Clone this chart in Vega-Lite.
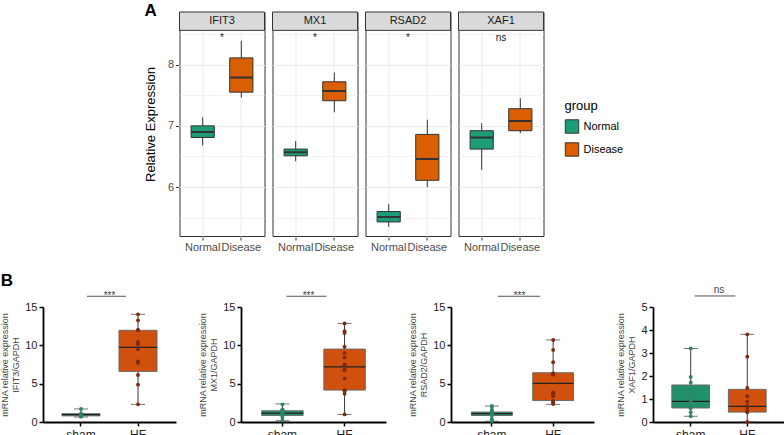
{
  "$schema": "https://vega.github.io/schema/vega-lite/v6.json",
  "padding": {"left": 0, "right": 0, "top": 2, "bottom": 0},
  "background": "white",
  "config": {"font": "Liberation Sans", "view": {"stroke": null}, "axis": {"labelOverlap": false, "labelFlush": false}},
  "datasets": {
    "topstats": [
      {"gene": "IFIT3", "group": "Normal", "min": 6.68, "q1": 6.81, "median": 6.90, "q3": 7.00, "max": 7.14, "sig": "*"},
      {"gene": "IFIT3", "group": "Disease", "min": 7.46, "q1": 7.55, "median": 7.79, "q3": 8.11, "max": 8.39, "sig": "*"},
      {"gene": "MX1", "group": "Normal", "min": 6.42, "q1": 6.51, "median": 6.57, "q3": 6.62, "max": 6.75, "sig": "*"},
      {"gene": "MX1", "group": "Disease", "min": 7.22, "q1": 7.41, "median": 7.57, "q3": 7.72, "max": 7.87, "sig": "*"},
      {"gene": "RSAD2", "group": "Normal", "min": 5.35, "q1": 5.43, "median": 5.51, "q3": 5.60, "max": 5.72, "sig": "*"},
      {"gene": "RSAD2", "group": "Disease", "min": 6.00, "q1": 6.11, "median": 6.46, "q3": 6.86, "max": 7.10, "sig": "*"},
      {"gene": "XAF1", "group": "Normal", "min": 6.28, "q1": 6.62, "median": 6.81, "q3": 6.92, "max": 7.04, "sig": "ns"},
      {"gene": "XAF1", "group": "Disease", "min": 6.88, "q1": 6.92, "median": 7.08, "q3": 7.28, "max": 7.45, "sig": "ns"}
    ],
    "bstats": [
      {"gene": "IFIT3", "group": "sham", "min": 0.65, "q1": 0.8, "median": 0.95, "q3": 1.08, "max": 1.7, "sig": "***"},
      {"gene": "IFIT3", "group": "HF", "min": 2.3, "q1": 6.6, "median": 9.74, "q3": 11.96, "max": 14.04, "sig": "***"},
      {"gene": "MX1", "group": "sham", "min": 0.17, "q1": 0.86, "median": 1.16, "q3": 1.46, "max": 2.36, "sig": "***"},
      {"gene": "MX1", "group": "HF", "min": 0.99, "q1": 4.16, "median": 7.2, "q3": 9.51, "max": 12.86, "sig": "***"},
      {"gene": "RSAD2", "group": "sham", "min": 0.1, "q1": 0.85, "median": 1.08, "q3": 1.3, "max": 2.08, "sig": "***"},
      {"gene": "RSAD2", "group": "HF", "min": 2.3, "q1": 2.8, "median": 5.03, "q3": 6.42, "max": 10.71, "sig": "***"},
      {"gene": "XAF1", "group": "sham", "min": 0.25, "q1": 0.61, "median": 0.9, "q3": 1.61, "max": 3.2, "sig": "ns"},
      {"gene": "XAF1", "group": "HF", "min": 0.0, "q1": 0.43, "median": 0.68, "q3": 1.42, "max": 3.81, "sig": "ns"}
    ],
    "bpts": [
      {"gene": "IFIT3", "group": "sham", "value": 0.7}, {"gene": "IFIT3", "group": "sham", "value": 0.75}, {"gene": "IFIT3", "group": "sham", "value": 0.8}, {"gene": "IFIT3", "group": "sham", "value": 0.85}, {"gene": "IFIT3", "group": "sham", "value": 0.9}, {"gene": "IFIT3", "group": "sham", "value": 0.95}, {"gene": "IFIT3", "group": "sham", "value": 1.0}, {"gene": "IFIT3", "group": "sham", "value": 1.02}, {"gene": "IFIT3", "group": "sham", "value": 1.05}, {"gene": "IFIT3", "group": "sham", "value": 1.1}, {"gene": "IFIT3", "group": "sham", "value": 1.7},
      {"gene": "IFIT3", "group": "HF", "value": 14.04}, {"gene": "IFIT3", "group": "HF", "value": 13.26}, {"gene": "IFIT3", "group": "HF", "value": 12.0}, {"gene": "IFIT3", "group": "HF", "value": 11.96}, {"gene": "IFIT3", "group": "HF", "value": 10.43}, {"gene": "IFIT3", "group": "HF", "value": 10.13}, {"gene": "IFIT3", "group": "HF", "value": 9.48}, {"gene": "IFIT3", "group": "HF", "value": 7.91}, {"gene": "IFIT3", "group": "HF", "value": 7.7}, {"gene": "IFIT3", "group": "HF", "value": 6.13}, {"gene": "IFIT3", "group": "HF", "value": 4.87}, {"gene": "IFIT3", "group": "HF", "value": 2.3},
      {"gene": "MX1", "group": "sham", "value": 2.3}, {"gene": "MX1", "group": "sham", "value": 1.65}, {"gene": "MX1", "group": "sham", "value": 1.55}, {"gene": "MX1", "group": "sham", "value": 1.45}, {"gene": "MX1", "group": "sham", "value": 1.3}, {"gene": "MX1", "group": "sham", "value": 1.2}, {"gene": "MX1", "group": "sham", "value": 1.1}, {"gene": "MX1", "group": "sham", "value": 1.0}, {"gene": "MX1", "group": "sham", "value": 0.9}, {"gene": "MX1", "group": "sham", "value": 0.85}, {"gene": "MX1", "group": "sham", "value": 0.6}, {"gene": "MX1", "group": "sham", "value": 0.2},
      {"gene": "MX1", "group": "HF", "value": 12.86}, {"gene": "MX1", "group": "HF", "value": 11.85}, {"gene": "MX1", "group": "HF", "value": 11.6}, {"gene": "MX1", "group": "HF", "value": 9.81}, {"gene": "MX1", "group": "HF", "value": 9.0}, {"gene": "MX1", "group": "HF", "value": 8.4}, {"gene": "MX1", "group": "HF", "value": 7.55}, {"gene": "MX1", "group": "HF", "value": 7.4}, {"gene": "MX1", "group": "HF", "value": 7.0}, {"gene": "MX1", "group": "HF", "value": 6.75}, {"gene": "MX1", "group": "HF", "value": 5.66}, {"gene": "MX1", "group": "HF", "value": 4.15}, {"gene": "MX1", "group": "HF", "value": 4.1}, {"gene": "MX1", "group": "HF", "value": 4.05}, {"gene": "MX1", "group": "HF", "value": 3.7}, {"gene": "MX1", "group": "HF", "value": 0.99},
      {"gene": "RSAD2", "group": "sham", "value": 2.08}, {"gene": "RSAD2", "group": "sham", "value": 2.0}, {"gene": "RSAD2", "group": "sham", "value": 1.6}, {"gene": "RSAD2", "group": "sham", "value": 1.5}, {"gene": "RSAD2", "group": "sham", "value": 1.35}, {"gene": "RSAD2", "group": "sham", "value": 1.25}, {"gene": "RSAD2", "group": "sham", "value": 1.15}, {"gene": "RSAD2", "group": "sham", "value": 1.1}, {"gene": "RSAD2", "group": "sham", "value": 1.05}, {"gene": "RSAD2", "group": "sham", "value": 0.95}, {"gene": "RSAD2", "group": "sham", "value": 0.85}, {"gene": "RSAD2", "group": "sham", "value": 0.4}, {"gene": "RSAD2", "group": "sham", "value": 0.2}, {"gene": "RSAD2", "group": "sham", "value": 0.1},
      {"gene": "RSAD2", "group": "HF", "value": 10.7}, {"gene": "RSAD2", "group": "HF", "value": 9.4}, {"gene": "RSAD2", "group": "HF", "value": 7.8}, {"gene": "RSAD2", "group": "HF", "value": 6.35}, {"gene": "RSAD2", "group": "HF", "value": 6.3}, {"gene": "RSAD2", "group": "HF", "value": 6.25}, {"gene": "RSAD2", "group": "HF", "value": 6.2}, {"gene": "RSAD2", "group": "HF", "value": 3.85}, {"gene": "RSAD2", "group": "HF", "value": 3.7}, {"gene": "RSAD2", "group": "HF", "value": 3.55}, {"gene": "RSAD2", "group": "HF", "value": 3.35}, {"gene": "RSAD2", "group": "HF", "value": 2.75}, {"gene": "RSAD2", "group": "HF", "value": 2.6}, {"gene": "RSAD2", "group": "HF", "value": 2.5}, {"gene": "RSAD2", "group": "HF", "value": 2.35},
      {"gene": "XAF1", "group": "sham", "value": 3.2}, {"gene": "XAF1", "group": "sham", "value": 1.96}, {"gene": "XAF1", "group": "sham", "value": 1.72}, {"gene": "XAF1", "group": "sham", "value": 1.32}, {"gene": "XAF1", "group": "sham", "value": 1.19}, {"gene": "XAF1", "group": "sham", "value": 0.91}, {"gene": "XAF1", "group": "sham", "value": 0.84}, {"gene": "XAF1", "group": "sham", "value": 0.65}, {"gene": "XAF1", "group": "sham", "value": 0.6}, {"gene": "XAF1", "group": "sham", "value": 0.42}, {"gene": "XAF1", "group": "sham", "value": 0.25},
      {"gene": "XAF1", "group": "HF", "value": 3.81}, {"gene": "XAF1", "group": "HF", "value": 2.84}, {"gene": "XAF1", "group": "HF", "value": 1.48}, {"gene": "XAF1", "group": "HF", "value": 1.12}, {"gene": "XAF1", "group": "HF", "value": 0.88}, {"gene": "XAF1", "group": "HF", "value": 0.7}, {"gene": "XAF1", "group": "HF", "value": 0.62}, {"gene": "XAF1", "group": "HF", "value": 0.48}, {"gene": "XAF1", "group": "HF", "value": 0.45}, {"gene": "XAF1", "group": "HF", "value": 0.42}, {"gene": "XAF1", "group": "HF", "value": 0.0}
    ]
  },
  "vconcat": [
    {
      "data": {"name": "topstats"},
      "title": {"text": "A", "anchor": "start", "frame": "bounds", "fontSize": 17, "fontWeight": "bold", "offset": -9},
      "facet": {"column": {"field": "gene", "type": "nominal", "sort": ["IFIT3", "MX1", "RSAD2", "XAF1"], "header": null}},
      "spacing": 6,
      "spec": {
        "width": 85,
        "height": 224,
        "view": {"stroke": "#333333", "strokeWidth": 1},
        "layer": [
          {
            "mark": {"type": "rule", "color": "#333333", "strokeWidth": 1},
            "encoding": {
              "x": {"field": "group", "type": "nominal", "sort": ["Normal", "Disease"],
                "scale": {"domain": ["Normal", "Disease"], "paddingInner": 0.4, "paddingOuter": 0.3},
                "axis": {"title": null, "labelAngle": 0, "labelFontSize": 11, "labelColor": "#4D4D4D", "tickColor": "#333333", "tickSize": 3, "domain": false, "grid": true, "gridColor": "#EBEBEB", "gridWidth": 1, "labelPadding": 1, "labelOverlap": false}},
              "y": {"field": "min", "type": "quantitative",
                "scale": {"domain": [5.2, 8.86], "nice": false, "zero": false},
                "axis": {"title": "Relative Expression", "titleFontSize": 13, "titleFontWeight": "normal", "titleColor": "#000000", "titlePadding": 10,
                  "values": [5.5, 6, 6.5, 7, 7.5, 8, 8.5], "tickCount": 30,
                  "labelExpr": "datum.value % 1 === 0 ? format(datum.value, 'd') : ''",
                  "labelOverlap": false,
                  "labelFontSize": 11, "labelColor": "#4D4D4D", "domain": false, "tickSize": 3,
                  "tickColor": "#333333",
                  "tickOpacity": {"condition": {"test": "datum.value % 1 === 0", "value": 1}, "value": 0},
                  "grid": true, "gridColor": "#EBEBEB",
                  "gridWidth": {"condition": {"test": "datum.value % 1 === 0", "value": 1.1}, "value": 0.6}}},
              "y2": {"field": "max"}
            }
          },
          {
            "mark": {"type": "bar", "stroke": "#333333", "strokeWidth": 1},
            "encoding": {
              "x": {"field": "group", "type": "nominal", "sort": ["Normal", "Disease"]},
              "y": {"field": "q1", "type": "quantitative"},
              "y2": {"field": "q3"},
              "color": {"field": "group", "type": "nominal", "sort": ["Normal", "Disease"],
                "scale": {"domain": ["Normal", "Disease"], "range": ["#1B9E77", "#D95F02"]},
                "legend": {"title": "group", "orient": "none", "legendX": 360, "legendY": 63, "padding": 25, "titleFontSize": 13, "titleFontWeight": "normal", "titleColor": "#000000", "labelFontSize": 11, "labelColor": "#000000", "symbolType": "square", "symbolSize": 180, "symbolStrokeColor": "#333333", "symbolStrokeWidth": 1, "symbolOpacity": 1, "rowPadding": 4, "titlePadding": 6}}
            }
          },
          {
            "mark": {"type": "bar", "fillOpacity": 0, "stroke": "#333333", "strokeWidth": 2},
            "encoding": {
              "x": {"field": "group", "type": "nominal", "sort": ["Normal", "Disease"]},
              "y": {"field": "median", "type": "quantitative"},
              "y2": {"field": "median"}
            }
          },
          {
            "transform": [{"filter": "datum.group === 'Normal'"}],
            "mark": {"type": "rect", "fill": "#D9D9D9", "stroke": "#333333", "strokeWidth": 1},
            "encoding": {
              "y": {"datum": 8.56, "type": "quantitative"},
              "y2": {"datum": 8.86}
            }
          },
          {
            "transform": [{"filter": "datum.group === 'Normal'"}],
            "mark": {"type": "text", "fontSize": 11, "color": "#1A1A1A", "baseline": "middle"},
            "encoding": {
              "y": {"datum": 8.71, "type": "quantitative"},
              "text": {"field": "gene"}
            }
          },
          {
            "transform": [{"filter": "datum.group === 'Normal'"}],
            "mark": {"type": "text", "fontSize": 10, "color": "#1A1A1A", "baseline": "middle"},
            "encoding": {
              "y": {"datum": 8.44, "type": "quantitative"},
              "text": {"field": "sig"}
            }
          }
        ]
      }
    },
    {
      "title": {"text": "B", "anchor": "start", "frame": "bounds", "fontSize": 17, "fontWeight": "bold", "offset": -5},
      "spacing": 22,
      "resolve": {"scale": {"y": "independent"}},
      "hconcat": [
        {
          "width": 133, "height": 115,
          "layer": [
            {"data": {"name": "bstats"}, "transform": [{"filter": "datum.gene === 'IFIT3'"}],
             "mark": {"type": "rule", "color": "#3A3A3A", "strokeWidth": 1},
             "encoding": {
               "x": {"field": "group", "type": "nominal", "sort": ["sham", "HF"], "scale": {"domain": ["sham", "HF"], "paddingInner": 0.333, "paddingOuter": 0.333},
                 "axis": {"title": null, "labelAngle": 0, "labelFontSize": 12, "labelColor": "#222222", "domainColor": "#000000", "domainWidth": 1.8, "tickColor": "#000000", "tickWidth": 1.5, "tickSize": 4, "labelPadding": 3, "grid": false, "labelOverlap": false}},
               "y": {"field": "min", "type": "quantitative", "scale": {"domain": [0, 15], "nice": false},
                 "axis": {"title": ["mRNA relative expression", "IFIT3/GAPDH"], "titleFontSize": 9, "titleFontWeight": "normal", "titleColor": "#444444", "titlePadding": 4, "values": [0, 5, 10, 15], "tickCount": 30, "format": "d", "labelOverlap": false, "labelFontSize": 11, "labelColor": "#222222", "domainColor": "#000000", "domainWidth": 1.8, "tickColor": "#000000", "tickWidth": 1.5, "tickSize": 4, "grid": false}},
               "y2": {"field": "max"}}},
            {"data": {"name": "bstats"}, "transform": [{"filter": "datum.gene === 'IFIT3'"}],
             "mark": {"type": "tick", "color": "#3A3A3A", "thickness": 1, "size": 14},
             "encoding": {"x": {"field": "group", "type": "nominal"}, "y": {"field": "min", "type": "quantitative"}}},
            {"data": {"name": "bstats"}, "transform": [{"filter": "datum.gene === 'IFIT3'"}],
             "mark": {"type": "tick", "color": "#3A3A3A", "thickness": 1, "size": 14},
             "encoding": {"x": {"field": "group", "type": "nominal"}, "y": {"field": "max", "type": "quantitative"}}},
            {"data": {"name": "bstats"}, "transform": [{"filter": "datum.gene === 'IFIT3'"}],
             "mark": {"type": "bar", "stroke": "#6A6A6A", "strokeWidth": 1},
             "encoding": {"x": {"field": "group", "type": "nominal"}, "y": {"field": "q1", "type": "quantitative"}, "y2": {"field": "q3"},
               "fill": {"field": "group", "type": "nominal", "scale": {"domain": ["sham", "HF"], "range": ["#22906B", "#D0500E"]}, "legend": null}}},
            {"data": {"name": "bstats"}, "transform": [{"filter": "datum.gene === 'IFIT3'"}],
             "mark": {"type": "bar", "fillOpacity": 0, "stroke": "#222222", "strokeWidth": 1.2},
             "encoding": {"x": {"field": "group", "type": "nominal"}, "y": {"field": "median", "type": "quantitative"}, "y2": {"field": "median"}}},
            {"data": {"name": "bpts"}, "transform": [{"filter": "datum.gene === 'IFIT3'"}],
             "mark": {"type": "circle", "size": 15, "opacity": 1},
             "encoding": {"x": {"field": "group", "type": "nominal"}, "y": {"field": "value", "type": "quantitative"},
               "color": {"field": "group", "type": "nominal", "scale": {"domain": ["sham", "HF"], "range": ["#2E8469", "#7E2A0B"]}, "legend": null}}},
            {"data": {"name": "bstats"}, "transform": [{"filter": "datum.gene === 'IFIT3' && datum.group === 'sham'"}],
             "mark": {"type": "rule", "color": "#555555", "strokeWidth": 1, "xOffset": 6, "x2Offset": -12},
             "encoding": {"x": {"datum": "sham", "type": "nominal"}, "x2": {"datum": "HF"}, "y": {"datum": 16.4, "type": "quantitative"}}},
            {"data": {"name": "bstats"}, "transform": [{"filter": "datum.gene === 'IFIT3' && datum.group === 'sham'"}],
             "mark": {"type": "text", "fontSize": 10, "color": "#444444", "baseline": "alphabetic", "dy": 3},
             "encoding": {"y": {"datum": 16.4, "type": "quantitative"}, "text": {"field": "sig"}}}
          ]
        },
        {
          "width": 145, "height": 115,
          "layer": [
            {"data": {"name": "bstats"}, "transform": [{"filter": "datum.gene === 'MX1'"}],
             "mark": {"type": "rule", "color": "#3A3A3A", "strokeWidth": 1},
             "encoding": {
               "x": {"field": "group", "type": "nominal", "sort": ["sham", "HF"], "scale": {"domain": ["sham", "HF"], "paddingInner": 0.333, "paddingOuter": 0.333},
                 "axis": {"title": null, "labelAngle": 0, "labelFontSize": 12, "labelColor": "#222222", "domainColor": "#000000", "domainWidth": 1.8, "tickColor": "#000000", "tickWidth": 1.5, "tickSize": 4, "labelPadding": 3, "grid": false, "labelOverlap": false}},
               "y": {"field": "min", "type": "quantitative", "scale": {"domain": [0, 15], "nice": false},
                 "axis": {"title": ["mRNA relative expression", "MX1/GAPDH"], "titleFontSize": 9, "titleFontWeight": "normal", "titleColor": "#444444", "titlePadding": 4, "values": [0, 5, 10, 15], "tickCount": 30, "format": "d", "labelOverlap": false, "labelFontSize": 11, "labelColor": "#222222", "domainColor": "#000000", "domainWidth": 1.8, "tickColor": "#000000", "tickWidth": 1.5, "tickSize": 4, "grid": false}},
               "y2": {"field": "max"}}},
            {"data": {"name": "bstats"}, "transform": [{"filter": "datum.gene === 'MX1'"}],
             "mark": {"type": "tick", "color": "#3A3A3A", "thickness": 1, "size": 14},
             "encoding": {"x": {"field": "group", "type": "nominal"}, "y": {"field": "min", "type": "quantitative"}}},
            {"data": {"name": "bstats"}, "transform": [{"filter": "datum.gene === 'MX1'"}],
             "mark": {"type": "tick", "color": "#3A3A3A", "thickness": 1, "size": 14},
             "encoding": {"x": {"field": "group", "type": "nominal"}, "y": {"field": "max", "type": "quantitative"}}},
            {"data": {"name": "bstats"}, "transform": [{"filter": "datum.gene === 'MX1'"}],
             "mark": {"type": "bar", "stroke": "#6A6A6A", "strokeWidth": 1},
             "encoding": {"x": {"field": "group", "type": "nominal"}, "y": {"field": "q1", "type": "quantitative"}, "y2": {"field": "q3"},
               "fill": {"field": "group", "type": "nominal", "scale": {"domain": ["sham", "HF"], "range": ["#22906B", "#D0500E"]}, "legend": null}}},
            {"data": {"name": "bstats"}, "transform": [{"filter": "datum.gene === 'MX1'"}],
             "mark": {"type": "bar", "fillOpacity": 0, "stroke": "#222222", "strokeWidth": 1.2},
             "encoding": {"x": {"field": "group", "type": "nominal"}, "y": {"field": "median", "type": "quantitative"}, "y2": {"field": "median"}}},
            {"data": {"name": "bpts"}, "transform": [{"filter": "datum.gene === 'MX1'"}],
             "mark": {"type": "circle", "size": 15, "opacity": 1},
             "encoding": {"x": {"field": "group", "type": "nominal"}, "y": {"field": "value", "type": "quantitative"},
               "color": {"field": "group", "type": "nominal", "scale": {"domain": ["sham", "HF"], "range": ["#2E8469", "#7E2A0B"]}, "legend": null}}},
            {"data": {"name": "bstats"}, "transform": [{"filter": "datum.gene === 'MX1' && datum.group === 'sham'"}],
             "mark": {"type": "rule", "color": "#555555", "strokeWidth": 1, "xOffset": 4, "x2Offset": -18},
             "encoding": {"x": {"datum": "sham", "type": "nominal"}, "x2": {"datum": "HF"}, "y": {"datum": 16.4, "type": "quantitative"}}},
            {"data": {"name": "bstats"}, "transform": [{"filter": "datum.gene === 'MX1' && datum.group === 'sham'"}],
             "mark": {"type": "text", "fontSize": 10, "color": "#444444", "baseline": "alphabetic", "dy": 3, "dx": -5},
             "encoding": {"y": {"datum": 16.4, "type": "quantitative"}, "text": {"field": "sig"}}}
          ]
        },
        {
          "width": 143, "height": 115,
          "layer": [
            {"data": {"name": "bstats"}, "transform": [{"filter": "datum.gene === 'RSAD2'"}],
             "mark": {"type": "rule", "color": "#3A3A3A", "strokeWidth": 1},
             "encoding": {
               "x": {"field": "group", "type": "nominal", "sort": ["sham", "HF"], "scale": {"domain": ["sham", "HF"], "paddingInner": 0.333, "paddingOuter": 0.333},
                 "axis": {"title": null, "labelAngle": 0, "labelFontSize": 12, "labelColor": "#222222", "domainColor": "#000000", "domainWidth": 1.8, "tickColor": "#000000", "tickWidth": 1.5, "tickSize": 4, "labelPadding": 3, "grid": false, "labelOverlap": false}},
               "y": {"field": "min", "type": "quantitative", "scale": {"domain": [0, 15], "nice": false},
                 "axis": {"title": ["mRNA relative expression", "RSAD2/GAPDH"], "titleFontSize": 9, "titleFontWeight": "normal", "titleColor": "#444444", "titlePadding": 4, "values": [0, 5, 10, 15], "tickCount": 30, "format": "d", "labelOverlap": false, "labelFontSize": 11, "labelColor": "#222222", "domainColor": "#000000", "domainWidth": 1.8, "tickColor": "#000000", "tickWidth": 1.5, "tickSize": 4, "grid": false}},
               "y2": {"field": "max"}}},
            {"data": {"name": "bstats"}, "transform": [{"filter": "datum.gene === 'RSAD2'"}],
             "mark": {"type": "tick", "color": "#3A3A3A", "thickness": 1, "size": 14},
             "encoding": {"x": {"field": "group", "type": "nominal"}, "y": {"field": "min", "type": "quantitative"}}},
            {"data": {"name": "bstats"}, "transform": [{"filter": "datum.gene === 'RSAD2'"}],
             "mark": {"type": "tick", "color": "#3A3A3A", "thickness": 1, "size": 14},
             "encoding": {"x": {"field": "group", "type": "nominal"}, "y": {"field": "max", "type": "quantitative"}}},
            {"data": {"name": "bstats"}, "transform": [{"filter": "datum.gene === 'RSAD2'"}],
             "mark": {"type": "bar", "stroke": "#6A6A6A", "strokeWidth": 1},
             "encoding": {"x": {"field": "group", "type": "nominal"}, "y": {"field": "q1", "type": "quantitative"}, "y2": {"field": "q3"},
               "fill": {"field": "group", "type": "nominal", "scale": {"domain": ["sham", "HF"], "range": ["#22906B", "#D0500E"]}, "legend": null}}},
            {"data": {"name": "bstats"}, "transform": [{"filter": "datum.gene === 'RSAD2'"}],
             "mark": {"type": "bar", "fillOpacity": 0, "stroke": "#222222", "strokeWidth": 1.2},
             "encoding": {"x": {"field": "group", "type": "nominal"}, "y": {"field": "median", "type": "quantitative"}, "y2": {"field": "median"}}},
            {"data": {"name": "bpts"}, "transform": [{"filter": "datum.gene === 'RSAD2'"}],
             "mark": {"type": "circle", "size": 15, "opacity": 1},
             "encoding": {"x": {"field": "group", "type": "nominal"}, "y": {"field": "value", "type": "quantitative"},
               "color": {"field": "group", "type": "nominal", "scale": {"domain": ["sham", "HF"], "range": ["#2E8469", "#7E2A0B"]}, "legend": null}}},
            {"data": {"name": "bstats"}, "transform": [{"filter": "datum.gene === 'RSAD2' && datum.group === 'sham'"}],
             "mark": {"type": "rule", "color": "#555555", "strokeWidth": 1, "xOffset": 6, "x2Offset": -13},
             "encoding": {"x": {"datum": "sham", "type": "nominal"}, "x2": {"datum": "HF"}, "y": {"datum": 16.4, "type": "quantitative"}}},
            {"data": {"name": "bstats"}, "transform": [{"filter": "datum.gene === 'RSAD2' && datum.group === 'sham'"}],
             "mark": {"type": "text", "fontSize": 10, "color": "#444444", "baseline": "alphabetic", "dy": 3, "dx": -3},
             "encoding": {"y": {"datum": 16.4, "type": "quantitative"}, "text": {"field": "sig"}}}
          ]
        },
        {
          "width": 132, "height": 115,
          "layer": [
            {"data": {"name": "bstats"}, "transform": [{"filter": "datum.gene === 'XAF1'"}],
             "mark": {"type": "rule", "color": "#3A3A3A", "strokeWidth": 1},
             "encoding": {
               "x": {"field": "group", "type": "nominal", "sort": ["sham", "HF"], "scale": {"domain": ["sham", "HF"], "paddingInner": 0.333, "paddingOuter": 0.333},
                 "axis": {"title": null, "labelAngle": 0, "labelFontSize": 12, "labelColor": "#222222", "domainColor": "#000000", "domainWidth": 1.8, "tickColor": "#000000", "tickWidth": 1.5, "tickSize": 4, "labelPadding": 3, "grid": false, "labelOverlap": false}},
               "y": {"field": "min", "type": "quantitative", "scale": {"domain": [0, 5], "nice": false},
                 "axis": {"title": ["mRNA relative expression", "XAF1/GAPDH"], "titleFontSize": 9, "titleFontWeight": "normal", "titleColor": "#444444", "titlePadding": 4, "values": [0, 1, 2, 3, 4, 5], "tickCount": 30, "format": "d", "labelOverlap": false, "labelFontSize": 11, "labelColor": "#222222", "domainColor": "#000000", "domainWidth": 1.8, "tickColor": "#000000", "tickWidth": 1.5, "tickSize": 4, "grid": false}},
               "y2": {"field": "max"}}},
            {"data": {"name": "bstats"}, "transform": [{"filter": "datum.gene === 'XAF1'"}],
             "mark": {"type": "tick", "color": "#3A3A3A", "thickness": 1, "size": 14},
             "encoding": {"x": {"field": "group", "type": "nominal"}, "y": {"field": "min", "type": "quantitative"}}},
            {"data": {"name": "bstats"}, "transform": [{"filter": "datum.gene === 'XAF1'"}],
             "mark": {"type": "tick", "color": "#3A3A3A", "thickness": 1, "size": 14},
             "encoding": {"x": {"field": "group", "type": "nominal"}, "y": {"field": "max", "type": "quantitative"}}},
            {"data": {"name": "bstats"}, "transform": [{"filter": "datum.gene === 'XAF1'"}],
             "mark": {"type": "bar", "stroke": "#6A6A6A", "strokeWidth": 1},
             "encoding": {"x": {"field": "group", "type": "nominal"}, "y": {"field": "q1", "type": "quantitative"}, "y2": {"field": "q3"},
               "fill": {"field": "group", "type": "nominal", "scale": {"domain": ["sham", "HF"], "range": ["#22906B", "#D0500E"]}, "legend": null}}},
            {"data": {"name": "bstats"}, "transform": [{"filter": "datum.gene === 'XAF1'"}],
             "mark": {"type": "bar", "fillOpacity": 0, "stroke": "#222222", "strokeWidth": 1.2},
             "encoding": {"x": {"field": "group", "type": "nominal"}, "y": {"field": "median", "type": "quantitative"}, "y2": {"field": "median"}}},
            {"data": {"name": "bpts"}, "transform": [{"filter": "datum.gene === 'XAF1'"}],
             "mark": {"type": "circle", "size": 15, "opacity": 1},
             "encoding": {"x": {"field": "group", "type": "nominal"}, "y": {"field": "value", "type": "quantitative"},
               "color": {"field": "group", "type": "nominal", "scale": {"domain": ["sham", "HF"], "range": ["#2E8469", "#7E2A0B"]}, "legend": null}}},
            {"data": {"name": "bstats"}, "transform": [{"filter": "datum.gene === 'XAF1' && datum.group === 'sham'"}],
             "mark": {"type": "rule", "color": "#555555", "strokeWidth": 1, "xOffset": 4, "x2Offset": -12},
             "encoding": {"x": {"datum": "sham", "type": "nominal"}, "x2": {"datum": "HF"}, "y": {"datum": 5.48, "type": "quantitative"}}},
            {"data": {"name": "bstats"}, "transform": [{"filter": "datum.gene === 'XAF1' && datum.group === 'sham'"}],
             "mark": {"type": "text", "fontSize": 10, "color": "#444444", "baseline": "alphabetic", "dy": -3},
             "encoding": {"y": {"datum": 5.48, "type": "quantitative"}, "text": {"field": "sig"}}}
          ]
        }
      ]
    }
  ],
  "spacing": 19,
  "center": true,
  "resolve": {"scale": {"color": "independent", "fill": "independent"}}
}
